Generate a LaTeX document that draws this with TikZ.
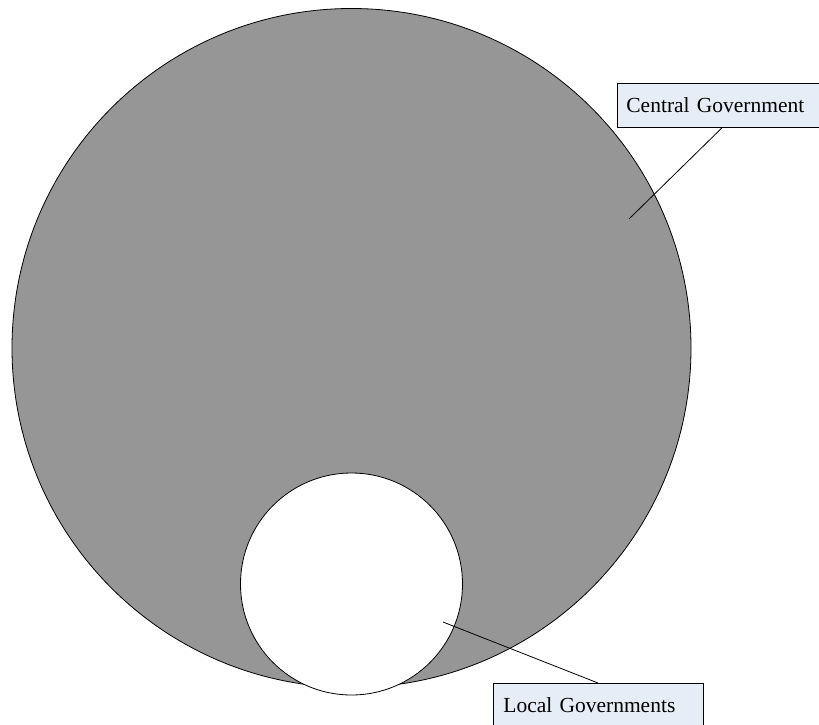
\documentclass[tikz,border=0pt]{standalone}
\usepackage{fontspec}
\setmainfont{Liberation Serif}
\usetikzlibrary{calc}
\definecolor{circgray}{RGB}{150,150,150}
\definecolor{boxblue}{RGB}{230,237,247}
\begin{document}
\begin{tikzpicture}[x=1pt,y=-1pt,
  outline/.style={draw=black,line width=0.8pt},
  bigcirc/.style={outline,circle,fill=circgray,inner sep=0pt},
  smallcirc/.style={outline,circle,fill=white,inner sep=0pt},
  callout/.style={draw=black,line width=0.8pt,fill=boxblue,anchor=north west,
    minimum height=44pt,text height=14.2pt,text depth=0pt,inner ysep=0pt,
    font=\fontsize{21.5}{26}\selectfont},
  leader/.style={draw=black,line width=0.8pt}]
\useasboundingbox (0,0) rectangle (819,725);
\clip (0,0) rectangle (819,725);
\fill[white] (0,0) rectangle (819,725);
\node[bigcirc,minimum size=679pt] (central) at (351.5,348) {};
\node[smallcirc,minimum size=222pt] (local) at (351.5,584) {};
\node[callout,inner xsep=9pt,minimum width=230pt,text width=212pt,align=left] (cg) at (617,83) {Central Government};
\node[callout,inner xsep=10pt,minimum width=210pt,text width=190pt,align=left] (lg) at (493,683) {Local Governments};
\coordinate (cgend) at (629,219);
\coordinate (lgend) at (443,622);
\draw[leader] ($(cg.south west)+(105,0)$) -- (cgend);
\draw[leader] ($(lg.north west)+(105,0)$) -- (lgend);
\end{tikzpicture}
\end{document}
